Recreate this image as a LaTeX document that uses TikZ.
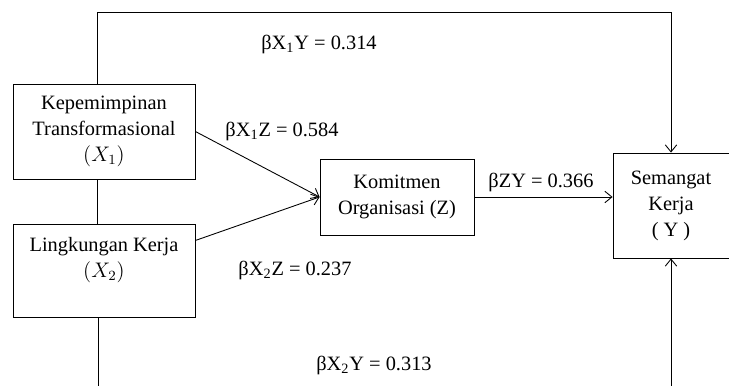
\documentclass[tikz,border=0pt]{standalone}
\usepackage{fontspec}
\setmainfont{Liberation Serif}
\usepackage{amsmath}
\usetikzlibrary{arrows, arrows.meta, positioning, calc}
\tikzset{
  varbox/.style={draw, line width=0.5pt, inner sep=0pt, align=center, font=\fontsize{11.6}{14.8}\selectfont},
  coef/.style={inner sep=1pt, font=\fontsize{11.6}{14}\selectfont},
  path/.style={line width=0.5pt, >={Straight Barb[length=4pt,width=6.5pt]}}
}

\begin{document}
\begin{tikzpicture}[x=0.02cm, y=-0.02cm]
\clip (0,0) rectangle (729,385);
% Draw the variable boxes
\node[varbox, minimum width=3.64cm, minimum height=1.9cm] (X1) at (104,131.5) {Kepemimpinan\\Transformasional\\$(X_1)$};
\node[varbox, minimum width=3.64cm, minimum height=1.86cm] (X2) at (104,270.5) {Lingkungan Kerja\\$(X_2)$\\\mbox{}};
\node[varbox, minimum width=3.08cm, minimum height=1.52cm] (Z) at (397,197) {Komitmen\\Organisasi (Z)};
\node[varbox, minimum width=2.32cm, minimum height=2.1cm] (Y) at (671,205.5) {Semangat\\Kerja\\( Y )};

% Draw the paths
\coordinate (tl) at (97,12);
\coordinate (bl) at (98,400);
\draw[path, ->] (X1.north -| tl) -- (tl) -- (Y.north |- tl) -- (Y.north);
\draw[path] (X1.south -| tl) -- (X2.north -| tl);
\draw[path, ->] (X2.south -| bl) -- (bl) -- (Y.south |- bl) -- (Y.south);
\draw[path, ->] (X1.east) -- (Z.west);
\draw[path, ->] ($(X2.north east)!0.18!(X2.south east)$) -- (Z.west);
\draw[path, ->] (Z.east) -- (Z.east -| Y.west);

% Draw the coefficients
\node[coef] (b1) at (319,44) {βX\textsubscript{1}Y = 0.314};
\node[coef] (b2) at (282,131) {βX\textsubscript{1}Z = 0.584};
\node[coef] (b3) at (295,270) {βX\textsubscript{2}Z = 0.237};
\node[coef] (b4) at (541,182) {βZY = 0.366};
\node[coef] (b5) at (374,365) {βX\textsubscript{2}Y = 0.313};
\end{tikzpicture}
\end{document}
